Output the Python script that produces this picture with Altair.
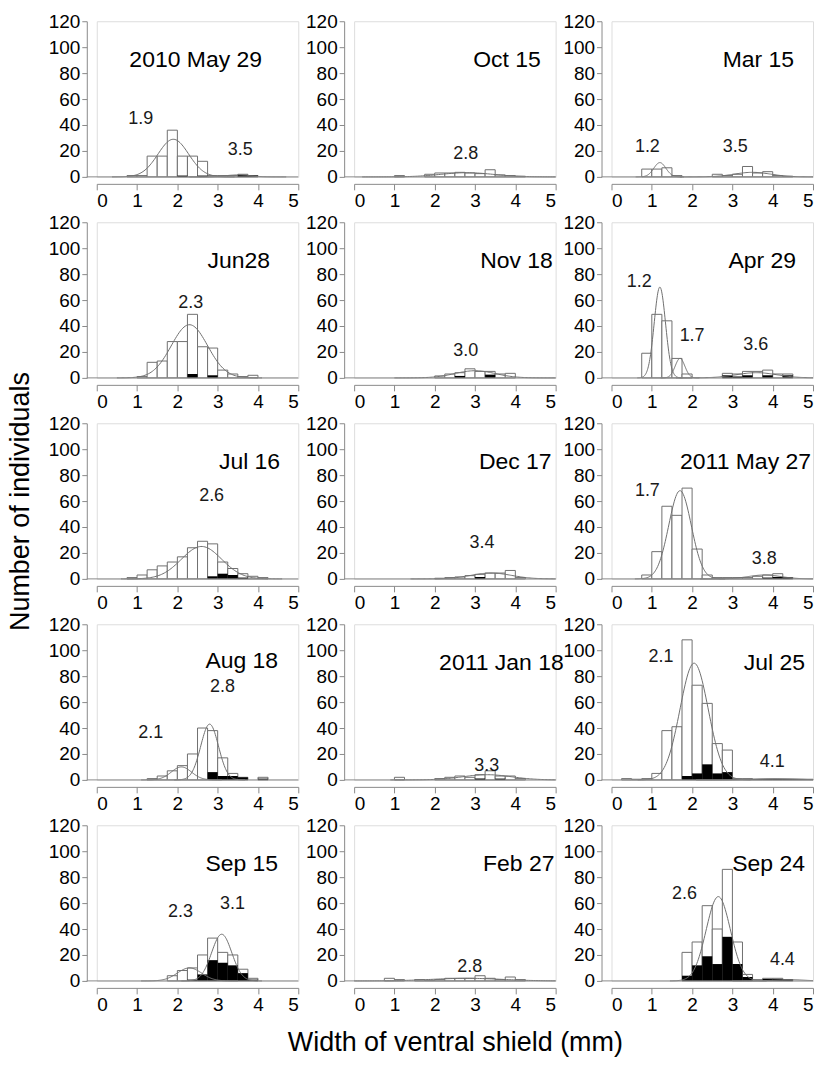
import altair as alt
import numpy as np
import pandas as pd

FONT = "Liberation Sans"
W, H = 202, 156

BIN_STARTS = [0.0, 0.25, 0.5, 0.75, 1.0, 1.25, 1.5, 1.75, 2.0, 2.25,
              2.5, 2.75, 3.0, 3.25, 3.5, 3.75, 4.0, 4.25, 4.5, 4.75]
BIN_WIDTH = 0.25

TITLES = ["2010 May 29", "Oct 15", "Mar 15",
          "Jun28", "Nov 18", "Apr 29",
          "Jul 16", "Dec 17", "2011 May 27",
          "Aug 18", "2011 Jan 18", "Jul 25",
          "Sep 15", "Feb 27", "Sep 24"]

# counts per 0.25 mm bin (all individuals / black sub-group)
may29_all = [0, 0, 0, 1, 1, 16, 16, 36, 16, 16, 12, 1, 1, 1, 2, 1, 0, 0, 0, 0]
may29_blk = [0, 0, 0, 0, 0, 0, 0, 0, 1, 0, 1, 0, 0, 0, 1.5, 1, 0, 0, 0, 0]
oct15_all = [0, 0, 0, 0, 1, 0, 0, 2, 3, 3, 3.5, 3, 2.5, 5.5, 1.5, 1, 0.5, 0, 0, 0]
oct15_blk = [0, 0, 0, 0, 0, 0, 0, 0, 0, 0, 0, 0, 0, 0, 0, 0, 0, 0, 0, 0]
mar15_all = [0, 0, 0, 6, 6, 7, 1, 0, 0, 0, 2, 1, 2, 8, 3, 4, 1, 0.5, 0, 0]
mar15_blk = [0, 0, 0, 0, 0, 0, 0, 0, 0, 0, 0, 0, 0, 0, 0, 0, 0, 0, 0, 0]
jun28_all = [0, 0, 0, 0, 1, 12, 13, 28, 28, 49, 24, 23, 6, 3, 1, 2, 0, 0, 0, 0]
jun28_blk = [0, 0, 0, 0, 0, 0, 0, 0, 0, 3, 0, 2, 0, 0, 0, 0, 0, 0, 0, 0]
nov18_all = [0, 0, 0, 0, 0, 0, 0, 0, 1.5, 3, 4, 7, 5, 5, 3, 3.5, 0, 0, 0, 0]
nov18_blk = [0, 0, 0, 0, 0, 0, 0, 0, 0, 0, 1.5, 0, 0, 2.5, 0, 0, 0, 0, 0, 0]
apr29_all = [0, 0, 0, 19, 49, 44, 15, 3, 0, 0, 0, 3.5, 3, 5, 5, 6, 3, 3, 0, 0]
apr29_blk = [0, 0, 0, 0, 0, 0, 0, 0, 0, 0, 0, 2, 1, 2, 0, 2, 0, 2, 0, 0]
jul16_all = [0, 0, 0, 1, 3, 7, 10, 13, 17, 24, 29, 27, 13, 8, 4, 2, 1, 0, 0, 0]
jul16_blk = [0, 0, 0, 0, 0, 0, 0, 0, 0, 0, 0, 2, 4, 3, 1, 0, 0, 0, 0, 0]
dec17_all = [0, 0, 0, 0, 0, 0, 0, 0, 0.5, 1, 1.5, 2.5, 3.5, 4.5, 4.5, 6.5, 1, 0, 0, 0]
dec17_blk = [0, 0, 0, 0, 0, 0, 0, 0, 0, 0, 0, 0, 1.5, 0, 0, 0, 0, 0, 0, 0]
may27_all = [0, 0, 0, 3, 21, 56, 49, 70, 23, 3, 1, 1, 1, 1, 2, 3, 4, 1, 0, 0]
may27_blk = [0, 0, 0, 0, 0, 0, 0, 0, 0, 0, 0, 0, 0, 0, 0, 1, 1.5, 1, 0, 0]
aug18_all = [0, 0, 0, 0, 0, 1, 3, 7, 11, 20, 40, 38, 17, 5, 2, 0, 2, 0, 0, 0]
aug18_blk = [0, 0, 0, 0, 0, 0, 0, 0, 0, 0, 0, 6, 3, 3, 2, 0, 1, 0, 0, 0]
jan18_all = [0, 0, 0, 0, 2, 0, 0, 0, 1, 2, 3, 2, 4, 7, 3, 3, 1, 0, 0, 0]
jan18_blk = [0, 0, 0, 0, 0, 0, 0, 0, 0, 0, 0, 0, 1, 0, 1, 0, 0, 0, 0, 0]
jul25_all = [0, 1, 0.5, 1, 5, 38, 41, 108, 73, 59, 28, 23, 1, 1, 0.5, 0.5, 0.5, 0.5, 0.5, 0.5]
jul25_blk = [0, 0, 0, 0, 0, 0, 0, 3, 5, 12, 5, 6, 0.5, 0.5, 0.5, 0.5, 0.5, 0.5, 0.5, 0.5]
sep15_all = [0, 0, 0, 0, 0, 0, 0, 4, 8, 10, 20, 33, 22, 20, 9, 2, 0, 0, 0, 0]
sep15_blk = [0, 0, 0, 0, 0, 0, 0, 0, 0, 1, 5, 16, 14, 12, 6, 1, 0, 0, 0, 0]
feb27_all = [0, 0, 0, 2, 1, 0, 1, 0.5, 1, 2, 2, 2, 4, 2, 1, 3, 1, 0, 0, 0]
feb27_blk = [0, 0, 0, 0, 0, 0, 0, 0, 0, 0, 0, 0, 0, 0, 0, 0, 0, 0, 0, 0]
sep24_all = [0, 0, 0, 0, 0, 0, 0, 22, 30, 58, 40, 86, 30, 5, 1, 2, 2, 1, 0, 0]
sep24_blk = [0, 0, 0, 0, 0, 0, 0, 4, 12, 19, 13, 34, 13, 3, 0, 1.5, 1.5, 1, 0, 0]

ALL_COUNTS = [may29_all, oct15_all, mar15_all, jun28_all, nov18_all, apr29_all,
              jul16_all, dec17_all, may27_all, aug18_all, jan18_all, jul25_all,
              sep15_all, feb27_all, sep24_all]
BLK_COUNTS = [may29_blk, oct15_blk, mar15_blk, jun28_blk, nov18_blk, apr29_blk,
              jul16_blk, dec17_blk, may27_blk, aug18_blk, jan18_blk, jul25_blk,
              sep15_blk, feb27_blk, sep24_blk]

# fitted normal components: mean, sd, peak height
FIT_MEAN = [[1.9, 3.5], [2.8], [1.2, 3.5], [2.3], [3.0], [1.2, 1.7, 3.6],
            [2.6], [3.4], [1.7, 3.8], [2.1, 2.8], [3.3], [2.05, 4.1],
            [2.3, 3.1], [2.8], [2.65, 4.4]]
FIT_SD = [[0.38, 0.3], [0.65], [0.15, 0.45], [0.45], [0.5], [0.14, 0.12, 0.5],
          [0.5], [0.5], [0.28, 0.4], [0.25, 0.22], [0.6], [0.35, 0.5],
          [0.3, 0.25], [0.85], [0.3, 0.35]]
FIT_PEAK = [[29, 1.5], [3.2], [11, 3.5], [41], [5.5], [70, 15, 4],
            [25], [4.5], [68, 3], [10, 43], [4], [90, 1],
            [10, 36], [2], [65, 1]]

LABEL_TEXT = [["1.9", "3.5"], ["2.8"], ["1.2", "3.5"], ["2.3"], ["3.0"], ["1.2", "1.7", "3.6"],
              ["2.6"], ["3.4"], ["1.7", "3.8"], ["2.1", "2.8"], ["3.3"], ["2.1", "4.1"],
              ["2.3", "3.1"], ["2.8"], ["2.6", "4.4"]]
LABEL_X = [[1.09, 3.56], [2.77], [0.89, 3.07], [2.33], [2.77], [0.69, 2.0, 3.58],
           [2.85], [3.17], [0.89, 3.79], [1.34, 3.12], [3.29], [1.23, 3.99],
           [2.08, 3.37], [2.87], [1.81, 4.24]]
LABEL_Y = [[45, 21], [18], [23, 23], [58], [21], [74, 32, 25],
           [64], [28], [68, 15], [36, 72], [11], [95, 14],
           [53, 59], [11], [67, 16]]
TITLE_X = [4.1, 4.63, 4.53, 4.3, 4.93, 4.58, 4.55, 4.9, 4.95, 4.5, 5.2, 4.8, 4.5, 4.97, 4.8]
TITLE_Y = [90, 90, 90, 90, 90, 90, 90, 90, 90, 92, 90, 90, 90, 90, 90]

X_TICKS = [0, 1, 2, 3, 4, 5]
Y_TICKS = [0, 20, 40, 60, 80, 100, 120]

AX_GRAY = "#8a8a8a"
BAR_GRAY = "#6f6f6f"
TICK_FS = 19


def make_panel(i):
    xs = alt.Scale(domain=[0, 5], nice=False, zero=False)
    ys = alt.Scale(domain=[0, 120], nice=False)
    xkw = dict(values=X_TICKS, format="d", offset=7, tickSize=6,
               domainColor=AX_GRAY, tickColor=AX_GRAY, labelFontSize=TICK_FS,
               labelFont=FONT, labelColor="black", labelPadding=2,
               labelOverlap=False, grid=False)
    ykw = dict(values=Y_TICKS, offset=10, tickSize=5,
               domainColor=AX_GRAY, tickColor=AX_GRAY, labelFontSize=TICK_FS,
               labelFont=FONT, labelColor="black", labelPadding=2,
               labelOverlap=False, labelBound=False, grid=False)
    if i == 13:
        xaxis = alt.Axis(title="Width of ventral shield (mm)", titleFont=FONT,
                         titleFontSize=27, titleFontWeight="normal",
                         titleColor="black", titlePadding=15, **xkw)
    else:
        xaxis = alt.Axis(title=None, **xkw)
    if i == 6:
        yaxis = alt.Axis(title="Number of individuals", titleFont=FONT,
                         titleFontSize=27, titleFontWeight="normal",
                         titleColor="black", titlePadding=14, **ykw)
    else:
        yaxis = alt.Axis(title=None, **ykw)

    def X(f):
        return alt.X(f, scale=xs, axis=xaxis)

    def Y(f):
        return alt.Y(f, scale=ys, axis=yaxis)

    hist = pd.DataFrame({
        "x0": BIN_STARTS,
        "x1": [b + BIN_WIDTH for b in BIN_STARTS],
        "n": ALL_COUNTS[i],
        "k": BLK_COUNTS[i],
        "z": [0] * len(BIN_STARTS),
    })
    white = alt.Chart(hist[hist.n > 0]).mark_rect(
        fill="white", stroke=BAR_GRAY, strokeWidth=1
    ).encode(x=X("x0:Q"), x2="x1:Q", y=Y("n:Q"), y2="z:Q")
    black = alt.Chart(hist[hist.k > 0]).mark_rect(fill="black", strokeWidth=0).encode(
        x=X("x0:Q"), x2="x1:Q", y=Y("k:Q"), y2="z:Q"
    )

    rows = []
    for c, (m, s, p) in enumerate(zip(FIT_MEAN[i], FIT_SD[i], FIT_PEAK[i])):
        lo, hi = max(0.0, m - 4 * s), min(5.0, m + 4 * s)
        for xv in np.linspace(lo, hi, 120):
            rows.append({"c": c, "x": float(xv),
                         "y": float(p * np.exp(-0.5 * ((xv - m) / s) ** 2))})
    curve = alt.Chart(pd.DataFrame(rows)).mark_line(
        color=BAR_GRAY, strokeWidth=1
    ).encode(x=X("x:Q"), y=Y("y:Q"), detail="c:N")

    base = alt.Chart(pd.DataFrame({"y": [0]})).mark_rule(
        color=AX_GRAY, strokeWidth=1
    ).encode(y=Y("y:Q"), x=alt.value(-10), x2=alt.value(W))

    lab = pd.DataFrame({"x": LABEL_X[i], "y": LABEL_Y[i], "t": LABEL_TEXT[i]})
    labels = alt.Chart(lab).mark_text(font=FONT, fontSize=18, color="#1a1a1a").encode(
        x=X("x:Q"), y=Y("y:Q"), text="t:N"
    )
    ttl = pd.DataFrame({"x": [TITLE_X[i]], "y": [TITLE_Y[i]], "t": [TITLES[i]]})
    title = alt.Chart(ttl).mark_text(font=FONT, fontSize=23, align="right",
                                     color="black").encode(
        x=X("x:Q"), y=Y("y:Q"), text="t:N"
    )
    return alt.layer(white, black, curve, base, labels, title).properties(width=W, height=H)


panels = [make_panel(i) for i in range(15)]
chart = alt.concat(*panels, columns=3, spacing={"row": 45.5, "column": 56},
                   bounds="flush").properties(
    padding={"left": 5, "top": 10, "right": 0, "bottom": 5}
).configure_view(strokeWidth=0).configure_axis(
    labelOverlap=False
).configure(background="white")

chart.save("out.html", embed_options={"renderer": "svg", "actions": False})
